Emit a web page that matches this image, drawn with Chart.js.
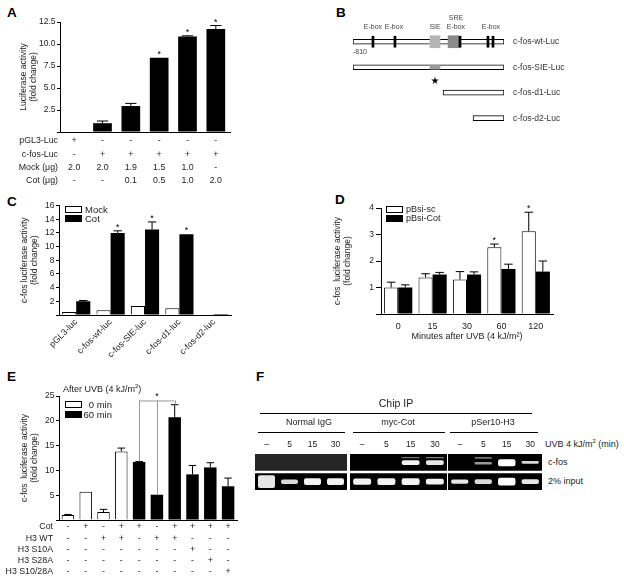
<!DOCTYPE html>
<html>
<head>
<meta charset="utf-8">
<script src="https://cdn.jsdelivr.net/npm/chart.js@4.4.0/dist/chart.umd.min.js"></script>
<style>
  body { margin: 0; background: #fff; }
  #fig { position: relative; width: 624px; height: 581px; overflow: hidden;
         font-family: "Liberation Sans", Arial, Helvetica, sans-serif; color: #222; }
  canvas { position: absolute; }
  .p { position: absolute; font-weight: bold; font-size: 13.5px; line-height: 1; color: #000; }
  .c { position: absolute; white-space: nowrap; line-height: 1; font-size: 9px; transform: translate(-50%, -50%); }
  .l { position: absolute; white-space: nowrap; line-height: 1; font-size: 9px; transform: translateY(-50%); }
  .hl { position: absolute; height: 1px; background: #000; }
  sup { font-size: 6px; vertical-align: 4px; line-height: 0; }
</style>
</head>
<body>
<div id="fig">
  <div class="p" style="left:7px;top:6px">A</div>
  <div class="p" style="left:336px;top:6px">B</div>
  <div class="p" style="left:7px;top:195px">C</div>
  <div class="p" style="left:335px;top:193px">D</div>
  <div class="p" style="left:7px;top:370px">E</div>
  <div class="p" style="left:256px;top:370px">F</div>

  <canvas id="chartA" width="240" height="195" style="left:0;top:0"></canvas>
  <canvas id="chartB" width="284" height="145" style="left:340px;top:0"></canvas>
  <canvas id="chartC" width="240" height="180" style="left:0;top:190px"></canvas>
  <canvas id="chartD" width="294" height="160" style="left:330px;top:190px"></canvas>
  <canvas id="chartE" width="250" height="211" style="left:0;top:370px"></canvas>

  <div class="l" style="left:63px;top:389px">After UVB (4 kJ/m<sup>2</sup>)</div>

  <div class="c" style="left:396px;top:403px;font-size:10.5px">Chip IP</div>
  <div class="hl" style="left:260px;top:413px;width:272px"></div>
  <div class="c" style="left:309px;top:422px">Normal IgG</div>
  <div class="c" style="left:398px;top:422px">myc-Cot</div>
  <div class="c" style="left:493px;top:422px">pSer10-H3</div>
  <div class="hl" style="left:258px;top:432px;width:87px"></div>
  <div class="hl" style="left:353px;top:432px;width:92px"></div>
  <div class="hl" style="left:450px;top:432px;width:88px"></div>
  <div class="l" style="left:545px;top:444px">UVB 4 kJ/m<sup>2</sup> (min)</div>
  <div class="l" style="left:548px;top:462px">c-fos</div>
  <div class="l" style="left:548px;top:481px">2% input</div>

  <canvas id="gelIgG" width="92" height="54" style="left:255px;top:436px"></canvas>
  <canvas id="gelCot" width="97" height="54" style="left:350px;top:436px"></canvas>
  <canvas id="gelH3" width="94" height="54" style="left:448px;top:436px"></canvas>
</div>

<script>
// ---- panel A ----
const aPGL3 = ['+', '-', '-', '-', '-', '-'];
const aCfos = ['-', '+', '+', '+', '+', '+'];
const aMock = ['2.0', '2.0', '1.9', '1.5', '1.0', '-'];
const aCot = ['-', '-', '0.1', '0.5', '1.0', '2.0'];
const aRowTitles = ['pGL3-Luc', 'c-fos-Luc', 'Mock (\u03bcg)', 'Cot (\u03bcg)'];
const aValues = [0, 1.0, 2.95, 8.45, 10.85, 11.7];
const aErrors = [0, 0.25, 0.3, 0, 0.08, 0.4];
const aStars = [false, false, false, true, true, true];

// ---- panel B ----
const bRows = ['c-fos-wt-Luc', 'c-fos-SIE-Luc', 'c-fos-d1-Luc', 'c-fos-d2-Luc'];
const bStart = [-810, -810, -327, -166];
const bEnd = [0, 0, 0, 0];
const bSIE = [-397, -343];
const bSRE = [-300, -241];
const bEbox = [-703, -585, -236, -86, -59];
const bSiteNames = [['E-box'], ['E-box'], ['SIE'], ['SRE', 'E-box'], ['E-box']];
const bSitePos = [-703, -590, -370, -258, -70];

// ---- panel C ----
const cLabels = ['pGL3-luc', 'c-fos-wt-luc', 'c-fos-SIE-luc', 'c-fos-d1-luc', 'c-fos-d2-luc'];
const cMock = [0.45, 0.7, 1.3, 1.0, 0];
const cCot = [2.0, 12.0, 12.5, 11.8, 0.15];
const cCotErr = [0.12, 0.3, 1.1, 0, 0];
const cCotStars = [false, true, true, true, false];

// ---- panel D ----
const dLabels = ['0', '15', '30', '60', '120'];
const dSc = [1.0, 1.38, 1.3, 2.52, 3.12];
const dScErr = [0.2, 0.14, 0.3, 0.12, 0.72];
const dScStars = [false, false, false, true, true];
const dCot = [1.0, 1.49, 1.49, 1.7, 1.6];
const dCotErr = [0.1, 0.08, 0.1, 0.18, 0.4];

// ---- panel E ----
const eCot = ['-', '+', '-', '+', '+', '-', '+', '+', '+', '+'];
const eWT = ['-', '-', '+', '+', '-', '+', '+', '-', '-', '-'];
const eS10A = ['-', '-', '-', '-', '-', '-', '-', '+', '-', '-'];
const eS28A = ['-', '-', '-', '-', '-', '-', '-', '-', '+', '-'];
const eS1028A = ['-', '-', '-', '-', '-', '-', '-', '-', '-', '+'];
const eRowTitles = ['Cot', 'H3 WT', 'H3 S10A', 'H3 S28A', 'H3 S10/28A'];
const eTime = [0, 0, 0, 0, 60, 60, 60, 60, 60, 60];
const eValues = [1.0, 5.7, 1.6, 13.8, 11.7, 5.1, 20.7, 9.2, 10.6, 6.8];
const eErrors = [0.12, 0, 0.55, 0.7, 0.1, 0, 2.55, 1.8, 0.95, 1.65];
const eBracketBars = [4, 5, 6];
const eBracketLevel = 24.1;

// ---- panel F (gel bands, row-relative 0..1, brightness 0..1) ----
const fLanes = ['\u2013', '5', '15', '30'];
const igCfos = [null, null, null, null];
const igCfosAlpha = [0, 0, 0, 0];
const igInput = [[0.12, 0.88], [0.36, 0.62], [0.3, 0.7], [0.3, 0.7]];
const igInputAlpha = [0.9, 0.85, 0.95, 0.95];
const cotCfos = [null, null, [0.34, 0.62], [0.34, 0.62]];
const cotCfosAlpha = [0, 0, 0.95, 0.9];
const cotUpper = [null, null, [0.74, 0.82], [0.74, 0.82]];
const cotUpperAlpha = [0, 0, 0.45, 0.5];
const cotInput = [[0.32, 0.68], [0.3, 0.7], [0.3, 0.7], [0.33, 0.67]];
const cotInputAlpha = [0.95, 0.95, 0.95, 0.95];
const h3Cfos = [null, [0.38, 0.52], [0.27, 0.68], [0.42, 0.58]];
const h3CfosAlpha = [0, 0.6, 1, 0.85];
const h3Upper = [null, [0.72, 0.82], null, null];
const h3UpperAlpha = [0, 0.45, 0, 0];
const h3Input = [[0.38, 0.62], [0.36, 0.64], [0.27, 0.73], [0.36, 0.64]];
const h3InputAlpha = [0.9, 0.85, 1, 0.9];

const FONT = '"Liberation Sans", Arial, Helvetica, sans-serif';
Chart.defaults.font.family = FONT;
Chart.defaults.font.size = 9;
Chart.defaults.color = '#222';
Chart.defaults.animation = false;
Chart.defaults.responsive = false;
Chart.defaults.plugins.legend.display = false;
Chart.defaults.plugins.tooltip.enabled = false;

// error bars and significance stars from dataset.errors / dataset.stars
const barExtras = {
  id: 'barExtras',
  afterDatasetsDraw(chart) {
    const ctx = chart.ctx;
    const y = chart.scales.y;
    ctx.save();
    chart.data.datasets.forEach((ds, di) => {
      const meta = chart.getDatasetMeta(di);
      meta.data.forEach((bar, i) => {
        const v = ds.data[i];
        if (v == null) return;
        const err = ds.errors ? ds.errors[i] : 0;
        const top = y.getPixelForValue(v + err);
        if (err) {
          const half = bar.width * 0.3;
          ctx.strokeStyle = '#000';
          ctx.lineWidth = 1;
          ctx.beginPath();
          ctx.moveTo(bar.x, bar.y);
          ctx.lineTo(bar.x, top);
          ctx.moveTo(bar.x - half, top);
          ctx.lineTo(bar.x + half, top);
          ctx.stroke();
        }
        if (ds.stars && ds.stars[i]) {
          ctx.fillStyle = '#000';
          ctx.font = '9px ' + FONT;
          ctx.textAlign = 'center';
          ctx.textBaseline = 'alphabetic';
          ctx.fillText('*', bar.x, top - 1);
        }
      });
    });
    ctx.restore();
  }
};

// small box legend drawn inside the plot
const boxLegend = {
  id: 'boxLegend',
  afterDraw(chart, args, o) {
    if (!o.items) return;
    const ctx = chart.ctx;
    ctx.save();
    ctx.font = (o.size || 9.5) + 'px ' + FONT;
    ctx.textBaseline = 'middle';
    o.items.forEach((it, i) => {
      const yy = o.y + i * o.step;
      ctx.fillStyle = it.fill;
      ctx.fillRect(o.x, yy, 17, 7);
      ctx.strokeStyle = '#000';
      ctx.lineWidth = 1;
      ctx.strokeRect(o.x + 0.5, yy + 0.5, 16, 6);
      ctx.fillStyle = '#222';
      if (o.textRight) {
        ctx.textAlign = 'right';
        ctx.fillText(it.text, o.textRight, yy + 4);
      } else {
        ctx.textAlign = 'left';
        ctx.fillText(it.text, o.x + 20, yy + 4);
      }
    });
    ctx.restore();
  }
};

// row titles to the left of the multi-line tick tables
const rowTitles = {
  id: 'rowTitles',
  afterDraw(chart, args, o) {
    if (!o.texts) return;
    const s = chart.scales.x;
    const ctx = chart.ctx;
    ctx.save();
    ctx.font = o.size + 'px ' + FONT;
    ctx.fillStyle = '#222';
    ctx.textAlign = 'right';
    ctx.textBaseline = 'middle';
    o.texts.forEach((t, i) => ctx.fillText(t, o.x, s.top + o.pad + o.lh * (i + 0.5)));
    ctx.restore();
  }
};

// bracket over bars in panel E
const bracket = {
  id: 'bracket',
  afterDatasetsDraw(chart, args, o) {
    const x = chart.scales.x, y = chart.scales.y, ctx = chart.ctx;
    const lvl = y.getPixelForValue(o.level);
    ctx.save();
    ctx.strokeStyle = '#999';
    ctx.lineWidth = 1;
    ctx.beginPath();
    o.bars.forEach(i => {
      const px = Math.round(x.getPixelForValue(i)) + 0.5;
      ctx.moveTo(px, lvl);
      ctx.lineTo(px, y.getPixelForValue(o.values[i] + o.errors[i]));
    });
    ctx.moveTo(x.getPixelForValue(o.bars[0]), lvl + 0.5);
    ctx.lineTo(x.getPixelForValue(o.bars[o.bars.length - 1]), lvl + 0.5);
    ctx.stroke();
    ctx.fillStyle = '#000';
    ctx.font = '9px ' + FONT;
    ctx.textAlign = 'center';
    ctx.fillText('*', x.getPixelForValue(o.bars[1]), lvl - 1);
    ctx.restore();
  }
};

// promoter annotations in panel B
const siteLabels = {
  id: 'siteLabels',
  afterDraw(chart) {
    const x = chart.scales.x, ctx = chart.ctx;
    ctx.save();
    ctx.fillStyle = '#444';
    ctx.font = '7px ' + FONT;
    ctx.textAlign = 'center';
    ctx.textBaseline = 'middle';
    bSiteNames.forEach((lines, i) => {
      lines.forEach((t, j) => {
        ctx.fillText(t, x.getPixelForValue(bSitePos[i]), 27 - (lines.length - 1 - j) * 8.5);
      });
    });
    ctx.textAlign = 'left';
    ctx.fillText('-810', x.getPixelForValue(bStart[0]), 52);
    ctx.fillStyle = '#000';
    ctx.font = '10px "DejaVu Sans"';
    ctx.textAlign = 'center';
    ctx.fillText('\u2605', x.getPixelForValue((bSIE[0] + bSIE[1]) / 2), 81);
    ctx.restore();
  }
};

// black gel rows behind bands
const gelRows = {
  id: 'gelRows',
  beforeDatasetsDraw(chart, args, o) {
    const y = chart.scales.y, a = chart.chartArea, ctx = chart.ctx;
    ctx.save();
    o.rows.forEach(r => {
      const t = y.getPixelForValue(r[1]), b = y.getPixelForValue(r[0]);
      ctx.fillStyle = r[2];
      ctx.fillRect(a.left, t, a.right - a.left, b - t);
    });
    ctx.restore();
  }
};

function yAxis(max, step, width, title, titlePad, fmt, tickLen) {
  return {
    min: 0, max: max,
    afterFit: s => { s.width = width; },
    ticks: { stepSize: step, padding: tickLen ? 2 : 1.5, font: { size: 8.5 }, callback: v => v === 0 ? '' : fmt(v) },
    grid: { drawOnChartArea: false, tickLength: tickLen || 3, color: '#000' },
    border: { color: '#000' },
    title: { display: true, text: title, color: '#222', padding: { top: titlePad, bottom: 0 },
             font: { size: 8.5, lineHeight: 1.15 } }
  };
}

function tableAxis(height, pad, lh) {
  return {
    afterFit: s => { s.height = height; },
    grid: { display: false, drawTicks: false },
    border: { color: '#000' },
    ticks: { padding: pad, autoSkip: false, maxRotation: 0, font: { size: 8.8, lineHeight: lh } }
  };
}

const lucTitle = ['c-fos luciferase activity', '(fold change)'];

// A
new Chart(document.getElementById('chartA'), {
  type: 'bar',
  data: {
    labels: aPGL3.map((p, i) => [p, aCfos[i], aMock[i], aCot[i]]),
    datasets: [{ data: aValues, errors: aErrors, stars: aStars, backgroundColor: '#000',
                 barPercentage: 0.66, categoryPercentage: 1 }]
  },
  options: {
    layout: { padding: { top: 22, right: 10, left: 0, bottom: 0 } },
    scales: {
      x: tableAxis(63, 2.4, 1.5),
      y: yAxis(12.5, 2.5, 60, ['Luciferase activity', '(fold change)'], 19, v => v.toFixed(1))
    },
    plugins: { rowTitles: { texts: aRowTitles, x: 58, size: 8.8, pad: 2.4, lh: 13.2 } }
  },
  plugins: [barExtras, rowTitles]
});

// B
const bDatasets = bEbox.map(m => ({
  data: [[m - 5.5, m + 5.5], null, null, null], backgroundColor: '#000', barThickness: 11
}));
bDatasets.push({ data: [bSIE, null, null, null], backgroundColor: '#b4b4b4', barThickness: 12 });
bDatasets.push({ data: [null, bSIE, null, null], backgroundColor: '#9a9a9a', barThickness: 4 });
bDatasets.push({ data: [bSRE, null, null, null], backgroundColor: '#8a8a8a', barThickness: 12 });
bDatasets.push({ data: bStart.map((s, i) => [s, bEnd[i]]), backgroundColor: '#fff', borderColor: '#000',
                 borderWidth: 1, borderSkipped: false, barThickness: 5 });
new Chart(document.getElementById('chartB'), {
  type: 'bar',
  data: { labels: bRows, datasets: bDatasets },
  options: {
    indexAxis: 'y',
    layout: { padding: { left: 13, top: 29, bottom: 5, right: 0 } },
    datasets: { bar: { grouped: false } },
    scales: {
      x: { display: false, min: -810, max: 0 },
      y: { position: 'right', afterFit: s => { s.width = 120; }, grid: { display: false, drawTicks: false },
           border: { display: false }, ticks: { padding: 9, font: { size: 8.5 }, color: '#333' } }
    }
  },
  plugins: [siteLabels]
});

// C
new Chart(document.getElementById('chartC'), {
  type: 'bar',
  data: {
    labels: cLabels,
    datasets: [
      { label: 'Mock', data: cMock, backgroundColor: '#fff', borderColor: '#000', borderWidth: 1 },
      { label: 'Cot', data: cCot, errors: cCotErr, stars: cCotStars, backgroundColor: '#000' }
    ]
  },
  options: {
    layout: { padding: { top: 15.5, right: 9 } },
    datasets: { bar: { categoryPercentage: 0.82, barPercentage: 1 } },
    scales: {
      x: { afterFit: s => { s.height = 55; }, grid: { display: false, drawTicks: false }, border: { color: '#000' },
           ticks: { minRotation: 45, maxRotation: 45, padding: 2, autoSkip: false, font: { size: 8.8 } } },
      y: yAxis(16, 2, 59, lucTitle, 19.5, v => v)
    },
    plugins: { boxLegend: { x: 65, y: 16, step: 9, size: 9.5,
                            items: [{ text: 'Mock', fill: '#fff' }, { text: 'Cot', fill: '#000' }] } }
  },
  plugins: [barExtras, boxLegend]
});

// D
new Chart(document.getElementById('chartD'), {
  type: 'bar',
  data: {
    labels: dLabels,
    datasets: [
      { label: 'pBsi-sc', data: dSc, errors: dScErr, stars: dScStars, backgroundColor: '#fff', borderColor: '#000', borderWidth: 1 },
      { label: 'pBsi-Cot', data: dCot, errors: dCotErr, backgroundColor: '#000' }
    ]
  },
  options: {
    layout: { padding: { top: 18, right: 71, left: 0 } },
    datasets: { bar: { categoryPercentage: 0.82, barPercentage: 1 } },
    scales: {
      x: { afterFit: s => { s.height = 36; }, grid: { display: false, drawTicks: false }, border: { color: '#000' },
           ticks: { padding: 7.6, font: { size: 9 } },
           title: { display: true, text: 'Minutes after UVB (4 kJ/m\u00b2)', color: '#222',
                    padding: { top: 0, bottom: 7.6 }, font: { size: 9 } } },
      y: yAxis(4, 1, 51, ['c-fos  luciferase activity', '(fold change)'], 2.5, v => v, 5)
    },
    plugins: { boxLegend: { x: 56, y: 16, step: 9, size: 9,
                            items: [{ text: 'pBsi-sc', fill: '#fff' }, { text: 'pBsi-Cot', fill: '#000' }] } }
  },
  plugins: [barExtras, boxLegend]
});

// E
new Chart(document.getElementById('chartE'), {
  type: 'bar',
  data: {
    labels: eCot.map((c, i) => [c, eWT[i], eS10A[i], eS28A[i], eS1028A[i]]),
    datasets: [
      { label: '0 min', data: eValues.map((v, i) => eTime[i] === 0 ? v : null),
        errors: eErrors, backgroundColor: '#fff', borderColor: '#000', borderWidth: 1 },
      { label: '60 min', data: eValues.map((v, i) => eTime[i] === 60 ? v : null),
        errors: eErrors, backgroundColor: '#000' }
    ]
  },
  options: {
    layout: { padding: { top: 26, right: 13 } },
    datasets: { bar: { grouped: false, categoryPercentage: 1, barPercentage: 0.7 } },
    scales: {
      x: tableAxis(61, 1.35, 1.28),
      y: yAxis(25, 5, 59, ['c-fos  luciferase activity', '(fold change)'], 20, v => v)
    },
    plugins: {
      rowTitles: { texts: eRowTitles, x: 53, size: 8.8, pad: 1.35, lh: 11.26 },
      boxLegend: { x: 65, y: 31, step: 10, size: 9.5, textRight: 112,
                   items: [{ text: '0 min', fill: '#fff' }, { text: '60 min', fill: '#000' }] },
      bracket: { bars: eBracketBars, level: eBracketLevel, values: eValues, errors: eErrors }
    }
  },
  plugins: [barExtras, rowTitles, boxLegend, bracket]
});

// F gels
const CFOS_BASE = 1.15;
function gelChart(id, rowBg, cfos, cfosAlpha, upper, upperAlpha, input, inputAlpha) {
  const shift = arr => arr.map(b => b ? [b[0] + CFOS_BASE, b[1] + CFOS_BASE] : null);
  const white = a => a.map(v => 'rgba(255,255,255,' + v + ')');
  new Chart(document.getElementById(id), {
    type: 'bar',
    data: {
      labels: fLanes,
      datasets: [
        { data: shift(cfos), backgroundColor: white(cfosAlpha) },
        { data: shift(upper), backgroundColor: white(upperAlpha) },
        { data: input, backgroundColor: white(inputAlpha) }
      ]
    },
    options: {
      layout: { padding: 0 },
      datasets: { bar: { grouped: false, categoryPercentage: 1, barPercentage: 0.74, borderRadius: 2, borderSkipped: false } },
      scales: {
        x: { position: 'top', afterFit: s => { s.height = 18; }, grid: { display: false, drawTicks: false },
             border: { display: false }, ticks: { padding: 4.5, font: { size: 8.5 } } },
        y: { display: false, min: 0, max: CFOS_BASE + 1 }
      },
      plugins: { gelRows: { rows: [[CFOS_BASE, CFOS_BASE + 1, rowBg], [0, 1, '#000']] } }
    },
    plugins: [gelRows]
  });
}
gelChart('gelIgG', '#262626', igCfos, igCfosAlpha, igCfos, igCfosAlpha, igInput, igInputAlpha);
gelChart('gelCot', '#000', cotCfos, cotCfosAlpha, cotUpper, cotUpperAlpha, cotInput, cotInputAlpha);
gelChart('gelH3', '#000', h3Cfos, h3CfosAlpha, h3Upper, h3UpperAlpha, h3Input, h3InputAlpha);
</script>
</body>
</html>
